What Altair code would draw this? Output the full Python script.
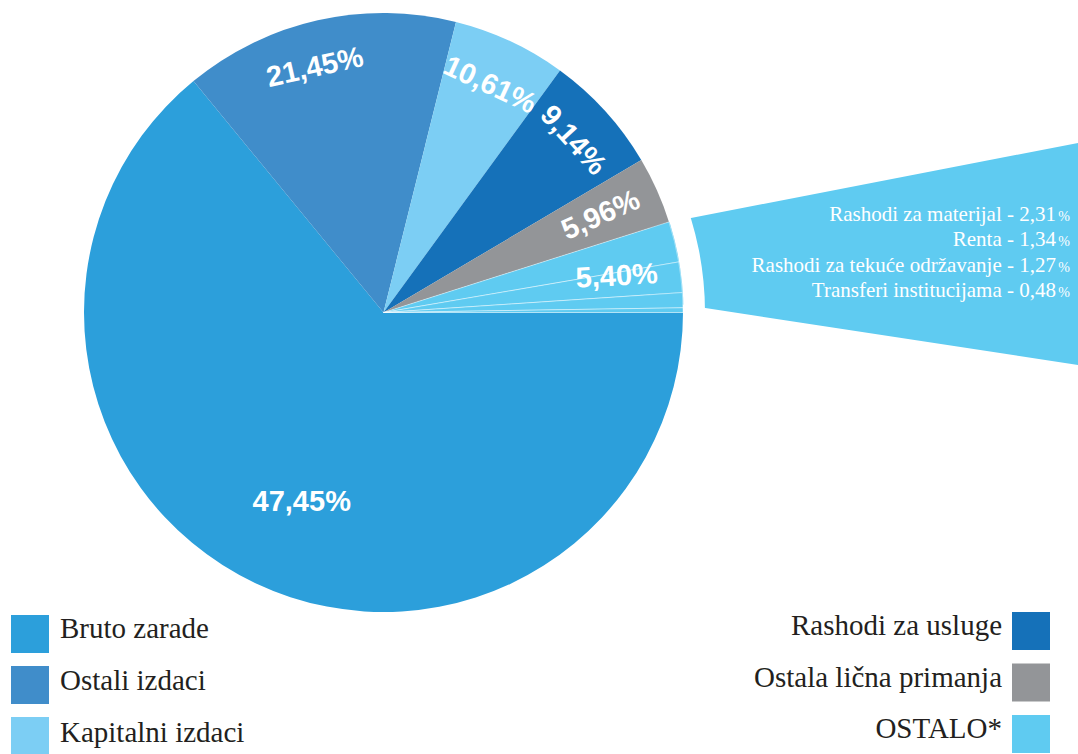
import math
import altair as alt
import pandas as pd

# ---------------- data ----------------
items = ["Bruto zarade", "Ostali izdaci", "Kapitalni izdaci", "Rashodi za usluge",
         "Ostala lična primanja", "Rashodi za materijal", "Renta",
         "Rashodi za tekuće održavanje", "Transferi institucijama"]
item_groups = ["Bruto zarade", "Ostali izdaci", "Kapitalni izdaci", "Rashodi za usluge",
               "Ostala lična primanja", "OSTALO*", "OSTALO*", "OSTALO*", "OSTALO*"]
# slice sizes as drawn in the picture (% of the full circle)
drawn_shares = [64.06, 14.83, 6.14, 6.47, 3.61, 2.19, 1.64, 0.81, 0.25]

group_names = ["Bruto zarade", "Ostali izdaci", "Kapitalni izdaci",
               "Rashodi za usluge", "Ostala lična primanja", "OSTALO*"]
group_labels = ["47,45%", "21,45%", "10,61%", "9,14%", "5,96%", "5,40%"]
group_colors = ["#2C9FDB", "#408DCA", "#7CCEF4", "#1571B9", "#939598", "#5FCBF1"]

sub_names = ["Rashodi za materijal", "Renta", "Rashodi za tekuće održavanje",
             "Transferi institucijama"]
sub_values = ["2,31", "1,34", "1,27", "0,48"]

# ---------------- layout constants ----------------
W, H = 1078, 754
CX, CY, R = 383.5, 312.5, 299.5
LABEL_FONT = "Liberation Sans"
SERIF = "Liberation Serif"
TXT = "#231f20"

df = pd.DataFrame({"item": items, "group": item_groups, "share": drawn_shares,
                   "order": list(range(len(items)))})
groups_df = pd.DataFrame({"group": group_names, "label": group_labels})
sub_df = pd.DataFrame({"txt": [f"{n} - {v}" for n, v in zip(sub_names, sub_values)],
                       "line": list(range(len(sub_names)))})
leg_df = pd.DataFrame({"group": group_names,
                       "side": ["left"] * 3 + ["right"] * 3,
                       "row": [0, 1, 2, 0, 1, 2]})

theta_scale = alt.Scale(domain=[0, 100], range=[math.pi / 2, math.pi / 2 + 2 * math.pi])
color_scale = alt.Scale(domain=group_names, range=group_colors)

base = (alt.Chart(df)
        .transform_window(cum_end="sum(share)",
                          sort=[alt.SortField("order", order="ascending")],
                          frame=[None, 0])
        .transform_calculate(start="datum.cum_end - datum.share"))

pie = base.mark_arc(radius=R, stroke="white", strokeOpacity=0.55).encode(
    x=alt.value(CX), y=alt.value(CY),
    theta=alt.Theta("start:Q", scale=theta_scale, stack=False),
    theta2="cum_end:Q",
    color=alt.Color("group:N", scale=color_scale, legend=None),
    strokeWidth=alt.condition("datum.group == 'OSTALO*'", alt.value(0.8), alt.value(0)),
)

lab_base = (base
            .transform_joinaggregate(gs="min(start)", ge="max(cum_end)", groupby=["group"])
            .transform_calculate(gmid="(datum.gs + datum.ge) / 2")
            .transform_filter("datum.start == datum.gs")
            .transform_lookup(lookup="group",
                              from_=alt.LookupData(groups_df, key="group", fields=["label"])))

label_style = {
    "Bruto zarade": dict(radius=210, angle=0, dx=8, dy=0),
    "Ostali izdaci": dict(radius=251, angle=347.3, dx=-13, dy=-3),
    "Kapitalni izdaci": dict(radius=251, angle=25.1, dx=0, dy=0),
    "Rashodi za usluge": dict(radius=256, angle=47.75, dx=0, dy=0),
    "Ostala lična primanja": dict(radius=238, angle=335.9, dx=0, dy=0),
    "OSTALO*": dict(radius=236, angle=356.6, dx=0, dy=0),
}
labels = []
for g in group_names:
    st = label_style[g]
    labels.append(
        lab_base.transform_filter(alt.datum.group == g)
        .mark_text(font=LABEL_FONT, fontWeight="bold", fontSize=29, color="white",
                   align="center", baseline="middle", **st)
        .encode(x=alt.value(CX), y=alt.value(CY),
                theta=alt.Theta("gmid:Q", scale=theta_scale, stack=False),
                text="label:N")
    )

# callout shape for OSTALO*
callout_df = pd.DataFrame({"x": [650, 1078], "top": [225.9, 143], "bot": [299.6, 365]})
callout = alt.Chart(callout_df).mark_area(color="#5FCBF1", interpolate="linear").encode(
    x=alt.X("x:Q", scale=alt.Scale(domain=[0, W], range=[0, W], nice=False, zero=False), axis=None),
    y=alt.Y("top:Q", scale=alt.Scale(domain=[0, H], range=[0, H], nice=False, zero=False), axis=None),
    y2="bot:Q",
)
ring = alt.Chart(pd.DataFrame({"k": [0]})).mark_arc(
    radius=321.5, radius2=300, color="white").encode(
    x=alt.value(CX), y=alt.value(CY),
    theta=alt.value(0), theta2=alt.value(2 * math.pi))

callout_txt = alt.Chart(sub_df).mark_text(
    align="right", baseline="alphabetic", font=SERIF, fontSize=21, color="white").encode(
    x=alt.value(1056),
    y=alt.Y("line:Q", scale=alt.Scale(domain=[0, 3], range=[221, 297], nice=False, zero=False), axis=None),
    text="txt:N")
callout_pct = alt.Chart(sub_df).mark_text(
    align="right", baseline="alphabetic", font=SERIF, fontSize=14, color="white").encode(
    x=alt.value(1070),
    y=alt.Y("line:Q", scale=alt.Scale(domain=[0, 3], range=[221, 297], nice=False, zero=False), axis=None),
    text=alt.value("%"))

# legend
def leg_sq(side, xpos, rng):
    return alt.Chart(leg_df).transform_filter(alt.datum.side == side).mark_square(
        size=1444, filled=True, opacity=1).encode(
        x=alt.value(xpos),
        y=alt.Y("row:Q", scale=alt.Scale(domain=[0, 2], range=rng, nice=False, zero=False), axis=None),
        color=alt.Color("group:N", scale=color_scale, legend=None))

def leg_txt(side, xpos, align, rng):
    return alt.Chart(leg_df).transform_filter(alt.datum.side == side).mark_text(
        align=align, baseline="alphabetic", font=SERIF, fontSize=29, color=TXT).encode(
        x=alt.value(xpos),
        y=alt.Y("row:Q", scale=alt.Scale(domain=[0, 2], range=rng, nice=False, zero=False), axis=None),
        text="group:N")

legend_layers = [
    leg_sq("left", 30, [634, 736]),
    leg_txt("left", 60, "left", [638, 742]),
    leg_sq("right", 1031, [631, 734]),
    leg_txt("right", 1002, "right", [635, 738]),
]

chart = (alt.layer(callout, ring, pie, *labels, callout_txt, callout_pct, *legend_layers)
         .resolve_scale(y="independent")
         .properties(width=W, height=H, autosize="none", padding=0, background="white")
         .configure_view(strokeWidth=0))

chart.save("out.html", embed_options={"renderer": "svg", "actions": False})
